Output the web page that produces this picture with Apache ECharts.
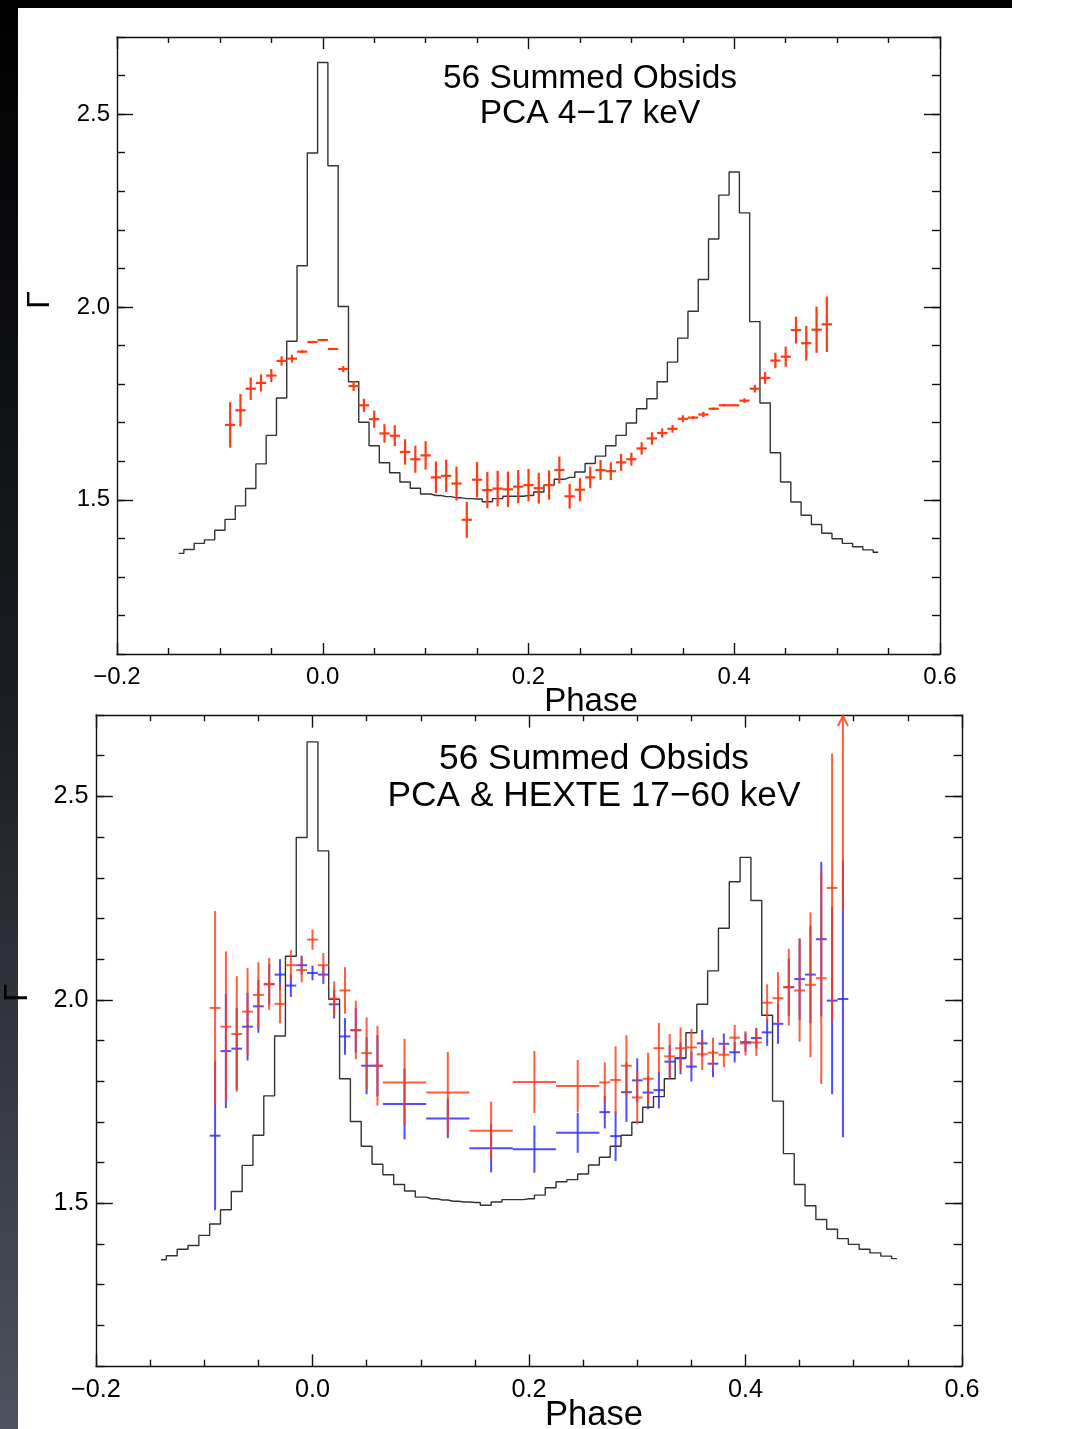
<!DOCTYPE html>
<html>
<head>
<meta charset="utf-8">
<script src="https://cdn.jsdelivr.net/npm/echarts@6/dist/echarts.min.js"></script>
<style>
html,body{margin:0;padding:0;background:#fff;}
#chart{width:1077px;height:1429px;}
</style>
</head>
<body>
<div id="chart"></div>
<script>
// ---- Light curve histogram (scaled onto the Gamma axis), bin centres ----
const histPhase = [-0.14,-0.13,-0.12,-0.11,-0.10,-0.09,-0.08,-0.07,-0.06,-0.05,-0.04,-0.03,-0.02,-0.01,
  0.00,0.01,0.02,0.03,0.04,0.05,0.06,0.07,0.08,0.09,0.10,0.11,0.12,0.13,0.14,0.15,0.16,0.17,0.18,0.19,
  0.20,0.21,0.22,0.23,0.24,0.25,0.26,0.27,0.28,0.29,0.30,0.31,0.32,0.33,0.34,0.35,0.36,0.37,0.38,0.39,
  0.40,0.41,0.42,0.43,0.44,0.45,0.46,0.47,0.48,0.49,0.50,0.51,0.52,0.53,0.54];
const histGamma = [1.361,1.371,1.387,1.396,1.421,1.449,1.484,1.529,1.593,1.667,1.764,1.911,2.107,2.399,
  2.634,2.366,2.001,1.806,1.701,1.640,1.596,1.570,1.546,1.530,1.515,1.511,1.508,1.505,1.503,1.502,1.495,1.503,1.509,1.509,
  1.511,1.520,1.538,1.553,1.558,1.572,1.594,1.613,1.640,1.667,1.699,1.736,1.762,1.806,1.857,1.919,1.989,2.071,2.176,2.290,
  2.350,2.244,1.962,1.751,1.622,1.546,1.494,1.460,1.436,1.413,1.399,1.387,1.378,1.370,1.364];

// ---- Top panel: PCA 4-17 keV ----
const topPhase = [-0.09,-0.08,-0.07,-0.06,-0.05,-0.04,-0.03,-0.02,-0.01,0.00,0.01,0.02,0.03,0.04,0.05,0.06,
  0.07,0.08,0.09,0.10,0.11,0.12,0.13,0.14,0.15,0.16,0.17,0.18,0.19,0.20,0.21,0.22,0.23,0.24,0.25,0.26,0.27,
  0.28,0.29,0.30,0.31,0.32,0.33,0.34,0.35,0.36,0.37,0.38,0.39,0.40,0.41,0.42,0.43,0.44,0.45,0.46,0.47,0.48,0.49];
const topGamma = [1.694,1.732,1.788,1.803,1.822,1.860,1.866,1.884,1.909,1.914,1.891,1.839,1.795,1.745,1.709,1.672,
  1.666,1.624,1.605,1.615,1.558,1.562,1.542,1.448,1.552,1.525,1.529,1.527,1.534,1.538,1.530,1.538,1.577,1.509,1.526,1.558,1.577,
  1.574,1.597,1.605,1.633,1.659,1.673,1.684,1.710,1.713,1.721,1.736,1.745,1.745,1.757,1.788,1.816,1.861,1.871,1.940,1.906,1.941,1.955];
const topErr = [0.059,0.042,0.029,0.022,0.017,0.012,0.010,0.004,0.003,0.002,0.002,0.008,0.013,0.017,0.022,0.024,
  0.027,0.033,0.035,0.037,0.041,0.042,0.044,0.047,0.046,0.047,0.046,0.046,0.043,0.042,0.040,0.038,0.035,0.032,0.030,0.028,0.026,
  0.023,0.022,0.017,0.016,0.016,0.012,0.010,0.009,0.004,0.007,0.003,0.003,0.002,0.006,0.010,0.015,0.020,0.026,0.035,0.045,0.060,0.072];
const topHalfWidth = 0.005;

// ---- Bottom panel: PCA & HEXTE 17-60 keV ----
const botPhase = [-0.09,-0.08,-0.07,-0.06,-0.05,-0.04,-0.03,-0.02,-0.01,0.00,0.01,0.02,0.03,0.04,0.05,0.06,
  0.085,0.125,0.165,0.205,0.245,
  0.27,0.28,0.29,0.30,0.31,0.32,0.33,0.34,0.35,0.36,0.37,0.38,0.39,0.40,0.41,0.42,0.43,0.44,0.45,0.46,0.47,0.48,0.49];
const botHalfWidth = [0.005,0.005,0.005,0.005,0.005,0.005,0.005,0.005,0.005,0.005,0.005,0.005,0.005,0.005,0.005,0.005,
  0.02,0.02,0.02,0.02,0.02,
  0.005,0.005,0.005,0.005,0.005,0.005,0.005,0.005,0.005,0.005,0.005,0.005,0.005,0.005,0.005,0.005,0.005,0.005,0.005,0.005,0.005,0.005,0.005];
const pcaGamma = [1.980,1.934,1.916,1.971,2.012,2.039,1.990,2.085,2.073,2.148,2.085,2.003,2.023,1.926,1.869,1.838,
  1.797,1.772,1.678,1.798,1.788,
  1.797,1.803,1.838,1.760,1.806,1.881,1.861,1.881,1.883,1.866,1.870,1.865,1.907,1.893,1.895,1.993,2.004,2.031,2.023,2.037,2.053,2.275,3.000];
const pcaErr = [0.238,0.185,0.142,0.107,0.080,0.064,0.048,0.037,0.030,0.025,0.030,0.042,0.057,0.072,0.088,0.098,
  0.107,0.100,0.072,0.076,0.064,
  0.049,0.083,0.075,0.066,0.064,0.062,0.055,0.051,0.045,0.039,0.037,0.031,0.031,0.030,0.033,0.045,0.064,0.094,0.126,0.178,0.260,0.330,0.780];
const hexteGamma = [1.666,1.874,1.880,1.934,1.984,2.038,2.062,2.035,2.085,2.066,2.062,1.989,1.910,1.925,1.838,1.838,
  1.744,1.708,1.635,1.633,1.673,
  1.724,1.665,1.773,1.802,1.772,1.778,1.848,1.856,1.836,1.893,1.843,1.892,1.871,1.896,1.906,1.920,1.941,2.031,2.051,2.062,2.149,1.998,2.002];
const hexteErr = [0.183,0.140,0.100,0.083,0.065,0.050,0.038,0.028,0.023,0.018,0.023,0.035,0.045,0.055,0.070,0.075,
  0.087,0.048,0.059,0.058,0.049,
  0.040,0.061,0.073,0.054,0.041,0.045,0.041,0.039,0.037,0.033,0.033,0.025,0.025,0.023,0.025,0.033,0.049,0.070,0.100,0.120,0.190,0.230,0.340];

const yMajor = [1.5, 2.0, 2.5];
const FONT = '"Liberation Sans", Arial, Helvetica, sans-serif';

function fmtX(v){ const s = Math.abs(v).toFixed(1); return (v < -1e-9 ? '\u2212' : '') + s; }
function fmtY(v){ return v.toFixed(1); }

function axisLine(){ return {show:true, onZero:false, lineStyle:{color:'#111', width:1.4}}; }

function xAxesFor(g, s){
  return [
    {gridIndex:g, type:'value', min:-0.2, max:0.6, interval:0.2, position:'bottom',
     axisLine:axisLine(),
     axisTick:{show:true, inside:true, length:11*s, lineStyle:{color:'#111', width:1.4}},
     minorTick:{show:true, splitNumber:4, length:6*s, lineStyle:{color:'#111', width:1.4}},
     splitLine:{show:false}, minorSplitLine:{show:false},
     axisLabel:{show:true, margin:11*s, fontSize:24*s, color:'#000', fontFamily:FONT, formatter:fmtX}},
    {gridIndex:g, type:'value', min:-0.2, max:0.6, interval:0.2, position:'top',
     axisLine:axisLine(),
     axisTick:{show:true, inside:true, length:12*s, lineStyle:{color:'#111', width:1.4}},
     minorTick:{show:true, splitNumber:4, length:6*s, lineStyle:{color:'#111', width:1.4}},
     splitLine:{show:false}, minorSplitLine:{show:false},
     axisLabel:{show:false}}
  ];
}
function yAxesFor(g, s){
  const out = [];
  ['left','right'].forEach(function(pos){
    out.push({gridIndex:g, type:'value', min:1.1, max:2.7, interval:0.1, position:pos,
      axisLine:axisLine(),
      axisTick:{show:true, inside:true, length:8*s, lineStyle:{color:'#111', width:1.4}},
      splitLine:{show:false}, axisLabel:{show:false}});
    out.push({gridIndex:g, type:'value', min:1.1, max:2.7, interval:0.1, position:pos,
      axisLine:{show:false, onZero:false},
      axisTick:{show:true, inside:true, length:16*s, customValues:yMajor, lineStyle:{color:'#111', width:1.4}},
      splitLine:{show:false},
      axisLabel:{show:pos==='left', customValues:yMajor, margin:7*s, fontSize:24*s, color:'#000', fontFamily:FONT, formatter:fmtY}});
  });
  return out;
}

function errRender(color, opacity, lw){
  return function(params, api){
    const x = api.value(0), y = api.value(1), e = api.value(2), xe = api.value(3);
    const cs = params.coordSys;
    const top = cs.y, bot = cs.y + cs.height;
    const pL = api.coord([x - xe, y]), pR = api.coord([x + xe, y]);
    const pT = api.coord([x, y + e]), pB = api.coord([x, y - e]);
    const st = {stroke:color, lineWidth:lw, opacity:opacity};
    const ch = [];
    const yc = pL[1];
    if (yc >= top && yc <= bot) ch.push({type:'line', shape:{x1:pL[0], y1:yc, x2:pR[0], y2:yc}, style:st});
    const y1 = Math.max(top, pT[1]), y2 = Math.min(bot, pB[1]);
    const xc = (pL[0] + pR[0]) / 2;
    if (y2 > y1) ch.push({type:'line', shape:{x1:xc, y1:y1, x2:xc, y2:y2}, style:st});
    if (pT[1] < top) {
      ch.push({type:'polyline', shape:{points:[[xc-5, top+11],[xc, top+1],[xc+5, top+11]]}, style:{stroke:color, lineWidth:lw, opacity:opacity, fill:null}});
    }
    return {type:'group', children:ch};
  };
}

const histData = histPhase.map(function(p,i){ return [p, histGamma[i]]; });
const topData = topPhase.map(function(p,i){ return [p, topGamma[i], topErr[i], topHalfWidth]; });
const pcaData = botPhase.map(function(p,i){ return [p, pcaGamma[i], pcaErr[i], botHalfWidth[i]]; });
const hexteData = botPhase.map(function(p,i){ return [p, hexteGamma[i], hexteErr[i], botHalfWidth[i]]; });

const RED = '#ff3a12';
const BLUE = '#2f2fff';
const S2 = 1.052;

const option = {
  animation:false,
  backgroundColor:'#ffffff',
  grid:[
    {left:117, top:37, width:823, height:617},
    {left:96, top:715, width:866, height:651}
  ],
  xAxis: xAxesFor(0,1).concat(xAxesFor(1,S2)),
  yAxis: yAxesFor(0,1).concat(yAxesFor(1,S2)),
  series:[
    {type:'line', xAxisIndex:0, yAxisIndex:0, data:histData, step:'middle', symbol:'none',
     lineStyle:{color:'#333', width:1.4}, z:2},
    {type:'custom', xAxisIndex:0, yAxisIndex:0, data:topData, encode:{x:0,y:1},
     renderItem:errRender(RED, 1, 2.2), z:3},
    {type:'line', xAxisIndex:2, yAxisIndex:4, data:histData, step:'middle', symbol:'none',
     lineStyle:{color:'#333', width:1.4}, z:2},
    {type:'custom', xAxisIndex:2, yAxisIndex:4, data:hexteData, encode:{x:0,y:1},
     renderItem:errRender(BLUE, 0.85, 2), z:3},
    {type:'custom', xAxisIndex:2, yAxisIndex:4, data:pcaData, encode:{x:0,y:1},
     renderItem:errRender(RED, 0.82, 2), z:4}
  ],
  graphic:[
    {type:'rect', left:0, top:0, z:-10, shape:{width:18, height:1429},
     style:{fill:new echarts.graphic.LinearGradient(0,0,0,1,[{offset:0,color:'#000'},{offset:0.5,color:'#1c1e24'},{offset:1,color:'#4d525e'}])}},
    {type:'rect', left:0, top:0, z:-10, shape:{width:1012, height:8}, style:{fill:'#000'}},
    {type:'text', x:590, y:79, style:{text:'56 Summed Obsids', font:'33.5px '+FONT, fill:'#000', textAlign:'center', textVerticalAlign:'middle'}},
    {type:'text', x:590, y:114, style:{text:'PCA 4\u221217 keV', font:'33.5px '+FONT, fill:'#000', textAlign:'center', textVerticalAlign:'middle'}},
    {type:'text', x:591, y:702, style:{text:'Phase', font:'33px '+FONT, fill:'#000', textAlign:'center', textVerticalAlign:'middle'}},
    {type:'text', x:40, y:300, rotation:Math.PI/2, style:{text:'\u0393', font:'32px '+FONT, fill:'#000', textAlign:'center', textVerticalAlign:'middle'}},
    {type:'text', x:594, y:759, style:{text:'56 Summed Obsids', font:'35.3px '+FONT, fill:'#000', textAlign:'center', textVerticalAlign:'middle'}},
    {type:'text', x:594, y:796, style:{text:'PCA & HEXTE 17\u221260 keV', font:'35.3px '+FONT, fill:'#000', textAlign:'center', textVerticalAlign:'middle'}},
    {type:'text', x:594, y:1415, style:{text:'Phase', font:'34.6px '+FONT, fill:'#000', textAlign:'center', textVerticalAlign:'middle'}},
    {type:'text', x:18, y:993, rotation:Math.PI/2, style:{text:'\u0393', font:'33px '+FONT, fill:'#000', textAlign:'center', textVerticalAlign:'middle'}}
  ]
};

const chart = echarts.init(document.getElementById('chart'), null, {renderer:'canvas'});
chart.setOption(option);
</script>
</body>
</html>
